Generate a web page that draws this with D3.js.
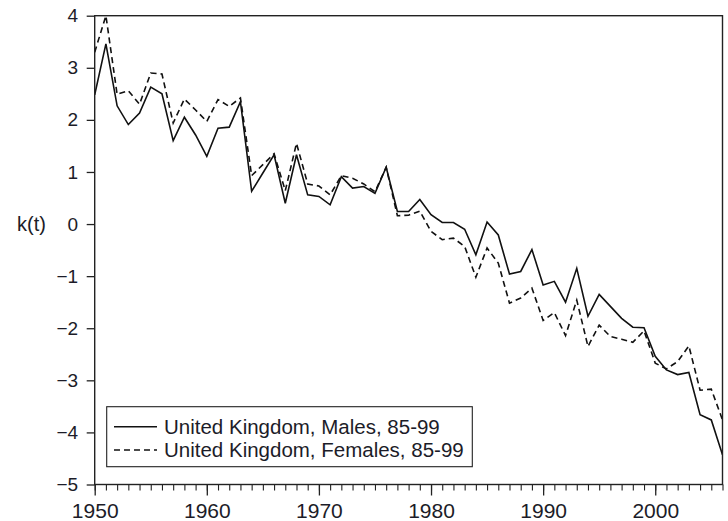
<!DOCTYPE html>
<html>
<head>
<meta charset="utf-8">
<script src="https://cdn.jsdelivr.net/npm/d3@7"></script>
<style>
  html, body { margin: 0; padding: 0; background: #fff; }
  svg { display: block; }
  text { font-family: "Liberation Sans", Arial, Helvetica, sans-serif; fill: #1c1c28; }
</style>
</head>
<body>
<svg id="chart" width="728" height="521"></svg>
<script>
const years = [1950,1951,1952,1953,1954,1955,1956,1957,1958,1959,
               1960,1961,1962,1963,1964,1965,1966,1967,1968,1969,
               1970,1971,1972,1973,1974,1975,1976,1977,1978,1979,
               1980,1981,1982,1983,1984,1985,1986,1987,1988,1989,
               1990,1991,1992,1993,1994,1995,1996,1997,1998,1999,
               2000,2001,2002,2003,2004,2005,2006];

const males = [2.48,3.46,2.27,1.91,2.13,2.63,2.50,1.60,2.05,1.71,
               1.30,1.84,1.86,2.35,0.63,0.98,1.33,0.40,1.33,0.56,
               0.53,0.37,0.91,0.69,0.72,0.59,1.09,0.24,0.24,0.47,
               0.18,0.03,0.03,-0.10,-0.59,0.04,-0.21,-0.96,-0.91,-0.49,
               -1.17,-1.10,-1.50,-0.85,-1.77,-1.35,-1.58,-1.81,-1.98,-1.99,
               -2.54,-2.80,-2.89,-2.85,-3.66,-3.76,-4.43];

const females = [3.30,4.00,2.49,2.56,2.30,2.90,2.88,1.94,2.40,2.19,
                 1.97,2.39,2.26,2.42,0.93,1.14,1.35,0.64,1.55,0.77,
                 0.73,0.56,0.93,0.88,0.77,0.62,1.09,0.16,0.17,0.25,
                 -0.14,-0.30,-0.27,-0.43,-1.02,-0.46,-0.75,-1.52,-1.42,-1.23,
                 -1.85,-1.70,-2.14,-1.46,-2.35,-1.94,-2.16,-2.21,-2.27,-2.05,
                 -2.67,-2.78,-2.64,-2.34,-3.19,-3.17,-3.76];

const yTicks = [-5,-4,-3,-2,-1,0,1,2,3,4];
const xMajorTicks = [1950,1960,1970,1980,1990,2000];
const seriesNames = ["United Kingdom, Males, 85-99", "United Kingdom, Females, 85-99"];
const yLabel = "k(t)";

const svg = d3.select("#chart");
const M = {left: 94.7, right: 722.5, top: 15.7, bottom: 484.5};

const x = d3.scaleLinear().domain([1950, 2006]).range([M.left, M.right]);
const y = d3.scaleLinear().domain([-5, 4]).range([M.bottom, M.top]);

const axisColor = "#222";

// minor x ticks (every year)
const xMinor = d3.axisBottom(x).tickValues(years).tickSize(6).tickFormat("");
const gMinor = svg.append("g").attr("transform", `translate(0,${M.bottom})`).call(xMinor);
gMinor.select(".domain").remove();
gMinor.selectAll("line").attr("stroke", axisColor).attr("stroke-width", 1.1);

// major x ticks
const xMajor = d3.axisBottom(x).tickValues(xMajorTicks).tickSize(11).tickPadding(7.5).tickFormat(d3.format("d"));
const gX = svg.append("g").attr("transform", `translate(0,${M.bottom})`).call(xMajor);
gX.select(".domain").remove();
gX.selectAll("line").attr("stroke", axisColor).attr("stroke-width", 1.3);
gX.selectAll("text").attr("font-size", 21).attr("fill", "#1c1c28")
  .style("font-family", "'Liberation Sans', Arial, sans-serif");

// y axis
const yAxis = d3.axisLeft(y).tickValues(yTicks).tickSize(8).tickPadding(8.5).tickFormat(d3.format("d"));
const gY = svg.append("g").attr("transform", `translate(${M.left},0)`).call(yAxis);
gY.select(".domain").remove();
gY.selectAll("line").attr("stroke", axisColor).attr("stroke-width", 1.3);
gY.selectAll("text").attr("font-size", 19).attr("fill", "#1c1c28")
  .style("font-family", "'Liberation Sans', Arial, sans-serif");

// y label
svg.append("text").attr("x", 17).attr("y", y(0)).attr("dy", "0.35em")
  .attr("font-size", 20).text(yLabel);

// lines
const line = (vals) => d3.line().x((d, i) => x(years[i])).y(d => y(d))(vals);

svg.append("clipPath").attr("id", "plotclip")
  .append("rect").attr("x", M.left).attr("y", M.top - 2).attr("width", M.right - M.left).attr("height", M.bottom - M.top + 2);

svg.append("path").attr("d", line(females)).attr("fill", "none")
  .attr("stroke", "#111").attr("stroke-width", 1.6).attr("stroke-dasharray", "6,4")
  .attr("clip-path", "url(#plotclip)");
svg.append("path").attr("d", line(males)).attr("fill", "none")
  .attr("stroke", "#111").attr("stroke-width", 1.6)
  .attr("clip-path", "url(#plotclip)");

// frame
svg.append("rect").attr("x", M.left).attr("y", M.top).attr("width", M.right - M.left).attr("height", M.bottom - M.top)
  .attr("fill", "none").attr("stroke", axisColor).attr("stroke-width", 1.4);

// legend
const lg = svg.append("g");
lg.append("rect").attr("x", 106.7).attr("y", 406.7).attr("width", 365.6).attr("height", 60)
  .attr("fill", "#fff").attr("stroke", axisColor).attr("stroke-width", 1.1);
const rows = [{name: seriesNames[0], dash: null, yy: 426.7}, {name: seriesNames[1], dash: "6,4", yy: 450}];
rows.forEach(r => {
  lg.append("line").attr("x1", 114).attr("x2", 157).attr("y1", r.yy).attr("y2", r.yy)
    .attr("stroke", "#111").attr("stroke-width", 1.4).attr("stroke-dasharray", r.dash);
  lg.append("text").attr("x", 164).attr("y", r.yy).attr("dy", "0.36em")
    .attr("font-size", 20.5).text(r.name);
});
</script>
</body>
</html>
